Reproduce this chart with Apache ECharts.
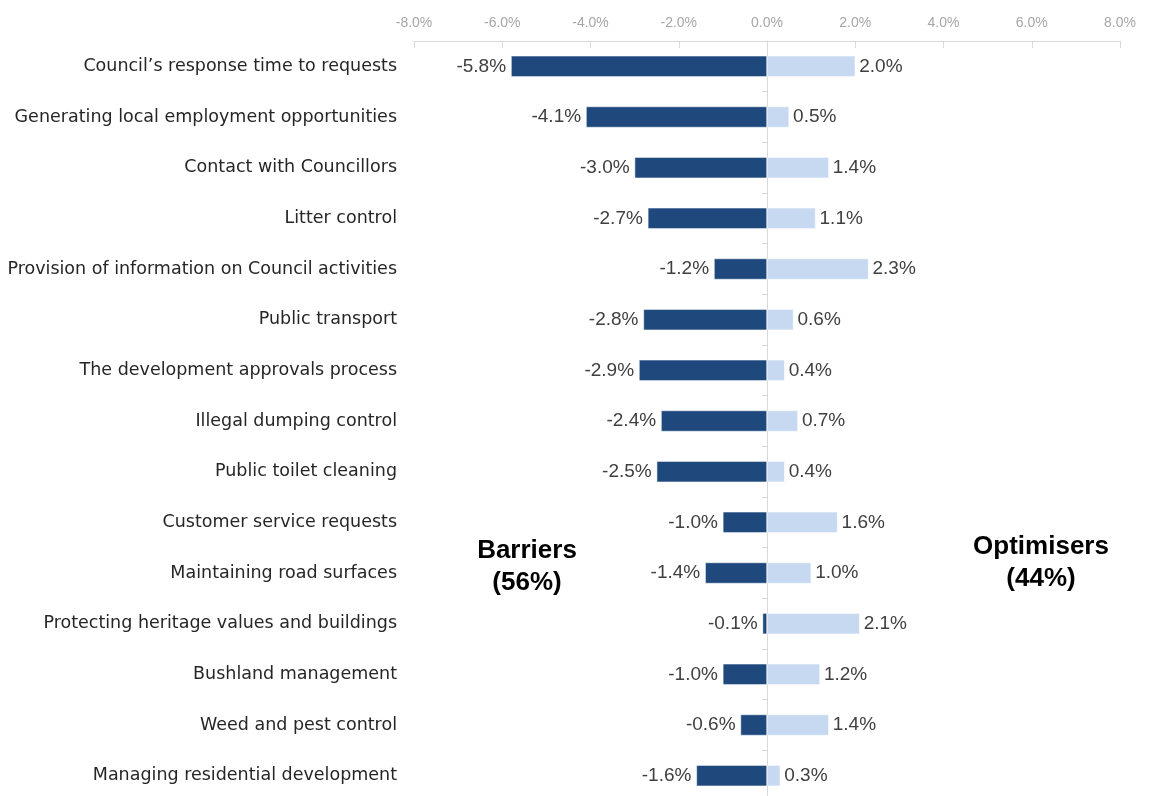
<!DOCTYPE html>
<html>
<head>
<meta charset="utf-8">
<script src="https://cdn.jsdelivr.net/npm/echarts@6/dist/echarts.min.js"></script>
<style>
  html, body { margin: 0; padding: 0; background: #fff; }
  #chart { width: 1151px; height: 796px; }
</style>
</head>
<body>
<div id="chart"></div>
<script>
// Service attributes, top to bottom
const categories = [
  "Council\u2019s response time to requests",
  "Generating local employment opportunities",
  "Contact with Councillors",
  "Litter control",
  "Provision of information on Council activities",
  "Public transport",
  "The development approvals process",
  "Illegal dumping control",
  "Public toilet cleaning",
  "Customer service requests",
  "Maintaining road surfaces",
  "Protecting heritage values and buildings",
  "Bushland management",
  "Weed and pest control",
  "Managing residential development"
];

// Contribution to overall satisfaction (%)
const barriers   = [-5.8, -4.1, -3.0, -2.7, -1.2, -2.8, -2.9, -2.4, -2.5, -1.0, -1.4, -0.1, -1.0, -0.6, -1.6];
const optimisers = [ 2.0,  0.5,  1.4,  1.1,  2.3,  0.6,  0.4,  0.7,  0.4,  1.6,  1.0,  2.1,  1.2,  1.4,  0.3];

const axisMin = -8, axisMax = 8, axisStep = 2;

const pct = v => v.toFixed(1) + '%';
const labelFont = '"Liberation Sans", sans-serif';

const chart = echarts.init(document.getElementById('chart'));
chart.setOption({
  animation: false,
  // the last row runs slightly past the bottom edge of the canvas
  grid: { left: 414, right: 31, top: 41, height: 760, containLabel: false, outerBoundsMode: 'none' },
  xAxis: {
    type: 'value',
    position: 'top',
    min: axisMin, max: axisMax, interval: axisStep,
    axisLine: { show: true, lineStyle: { color: '#d9d9d9', width: 1 } },
    axisTick: { show: true, inside: true, length: 7, lineStyle: { color: '#d9d9d9' } },
    splitLine: { show: false },
    axisLabel: {
      formatter: v => pct(v),
      color: '#a6a6a6', fontSize: 14, fontFamily: labelFont, margin: 11
    }
  },
  yAxis: [
    {
      type: 'category',
      data: categories,
      inverse: true,
      axisLine: { show: false, onZero: false },
      axisTick: { show: false },
      axisLabel: {
        color: '#262626', fontSize: 17.5, fontFamily: '"DejaVu Sans", sans-serif', margin: 17
      }
    },
    {
      type: 'category',
      data: categories,
      inverse: true,
      position: 'left',
      axisLine: { show: true, onZero: true, lineStyle: { color: '#d9d9d9' } },
      axisTick: { show: true, length: 5, lineStyle: { color: '#d9d9d9' } },
      axisLabel: { show: false }
    }
  ],
  series: [
    {
      name: 'Barriers',
      type: 'bar',
      yAxisIndex: 0,
      data: barriers,
      barWidth: 21,
      barGap: '-100%',
      itemStyle: { color: '#1f497d', borderColor: '#ffffff', borderWidth: 0.5 },
      label: {
        show: true, position: 'left', distance: 5,
        formatter: p => pct(p.value),
        color: '#404040', fontSize: 19, fontFamily: labelFont
      }
    },
    {
      name: 'Optimisers',
      type: 'bar',
      yAxisIndex: 0,
      data: optimisers,
      barWidth: 21,
      barGap: '-100%',
      itemStyle: { color: '#c6d9f1', borderColor: '#ffffff', borderWidth: 0.5 },
      label: {
        show: true, position: 'right', distance: 4,
        formatter: p => pct(p.value),
        color: '#404040', fontSize: 19, fontFamily: labelFont
      }
    }
  ],
  graphic: [
    {
      type: 'text', x: 527, y: 567,
      style: {
        text: 'Barriers\n(56%)', align: 'center', verticalAlign: 'middle',
        fill: '#000', font: 'bold 26px "Liberation Sans", sans-serif', lineHeight: 32
      }
    },
    {
      type: 'text', x: 1041, y: 563,
      style: {
        text: 'Optimisers\n(44%)', align: 'center', verticalAlign: 'middle',
        fill: '#000', font: 'bold 26px "Liberation Sans", sans-serif', lineHeight: 32
      }
    }
  ]
});
</script>
</body>
</html>
